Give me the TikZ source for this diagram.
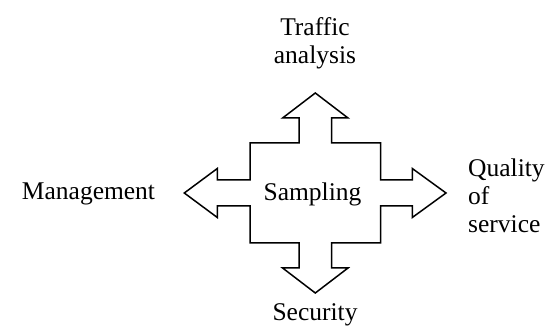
\documentclass[tikz,border=0pt]{standalone}
\usepackage{fontspec}
\setmainfont{Liberation Serif}
\usepackage{tikz}
\usetikzlibrary{positioning}

\tikzset{
    lbl/.style={font=\fontsize{25.5}{28}\selectfont, inner sep=0pt},
    outline/.style={line width=1.5pt, line join=miter}
}

\begin{document}
\begin{tikzpicture}[x=1pt, y=-1pt]
    \useasboundingbox (0,0) rectangle (554,336);

    % Cross of four arrows around the central box
    \draw[outline] (315.3,93) -- (348,118) -- (331.6,118) -- (331.6,143)
        -- (380.6,143) -- (380.6,180) -- (412.3,180) -- (412.3,168.5)
        -- (446,193) -- (412.3,217.5) -- (412.3,206) -- (380.6,206)
        -- (380.6,243) -- (331.6,243) -- (331.6,268) -- (348,268)
        -- (315.3,293) -- (282.6,268) -- (299,268) -- (299,243)
        -- (250,243) -- (250,206) -- (217.3,206) -- (217.3,217.5)
        -- (184.3,193) -- (217.3,168.5) -- (217.3,180) -- (250,180)
        -- (250,143) -- (299,143) -- (299,118) -- (282.6,118) -- cycle;

    % Labels (multi-line nodes sit on their last baseline)
    \node[lbl, anchor=base] (samp) at (312.5,201) {Sampling};
    \node[lbl, anchor=base] (mgmt) at (88.5,200) {Management};
    \node[lbl, anchor=base] (sec) at (315,321) {Security};
    \node[lbl, anchor=base, align=center] (traf) at (315,64) {Traffic\\analysis};
    \node[lbl, anchor=base west, align=left] (qos) at (468,233) {Quality\\of\\service};
\end{tikzpicture}
\end{document}
